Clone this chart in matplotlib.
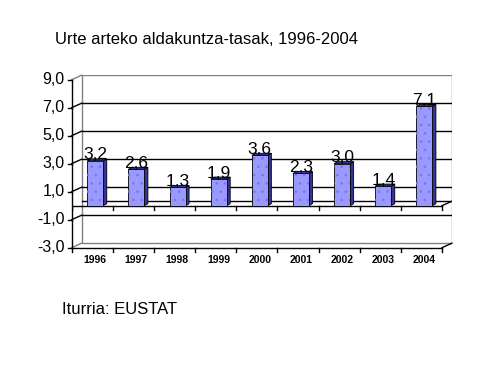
import matplotlib.pyplot as plt
from matplotlib.patches import Polygon, Rectangle

# data
years = ['1996', '1997', '1998', '1999', '2000', '2001', '2002', '2003', '2004']
rates = [3.2, 2.6, 1.3, 1.9, 3.6, 2.3, 3.0, 1.4, 7.1]
rate_labels = ['3,2', '2,6', '1,3', '1,9', '3,6', '2,3', '3,0', '1,4', '7,1']
y_ticks = [-3, -1, 1, 3, 5, 7, 9]
y_tick_labels = ['-3,0', '-1,0', '1,0', '3,0', '5,0', '7,0', '9,0']

plt.rcParams['font.family'] = ['Liberation Sans', 'DejaVu Sans']
plt.rcParams['hatch.linewidth'] = 0.6

fig = plt.figure(figsize=(4.86, 3.87), dpi=100)
ax = fig.add_axes([0.1475, 0.360, 0.7825, 0.4457])

n = len(years)
dx, dy = 0.243, 0.32      # depth of the 3d box (data units)
ymin, ymax = y_ticks[0], y_ticks[-1]
ax.set_xlim(0, n + dx)
ax.set_ylim(ymin, ymax + dy)
ax.axis('off')

# back wall + gridlines
ax.add_patch(Rectangle((dx, ymin + dy), n, ymax - ymin, fill=False,
                       edgecolor='#808080', lw=1, zorder=1))
for v, lab in zip(y_ticks, y_tick_labels):
    c = '#808080' if v in (ymin, ymax) else 'black'
    if v not in (ymin, ymax):
        ax.plot([dx, n + dx], [v + dy, v + dy], color='black', lw=1, zorder=1)
    ax.plot([0, dx], [v, v + dy], color=c, lw=1, zorder=1, clip_on=False)
    ax.plot([-0.1, 0], [v, v], color='black', lw=1, clip_on=False)
    ax.text(-0.17, v, lab, ha='right', va='center', fontsize=11.5)

# floor at zero
ax.plot([dx, n + dx], [dy, dy], color='black', lw=1, zorder=1)
ax.plot([0, n], [0, 0], color='black', lw=1, zorder=2)
ax.plot([n, n + dx], [0, dy], color='black', lw=1, zorder=2)

# axes lines
ax.plot([0, 0], [ymin, ymax], color='black', lw=1, clip_on=False)
ax.plot([0, n], [ymin, ymin], color='black', lw=1, clip_on=False)
ax.plot([n, n + dx], [ymin, ymin + dy], color='black', lw=1, clip_on=False)
for k in range(n + 1):
    ax.plot([k, k], [ymin, ymin - 0.3], color='black', lw=1, clip_on=False)
    ax.plot([k, k], [0, -0.3], color='black', lw=1, zorder=2)

# bars
w, s = 0.389, 0.073
bdx, bdy = 0.085, 0.143
for i, v in enumerate(rates):
    x0 = i + 0.5 - w / 2 + s
    x1 = x0 + w
    ax.add_patch(Polygon([(x1, 0), (x1 + bdx, bdy), (x1 + bdx, v + bdy), (x1, v)],
                         facecolor='#333399', edgecolor='black', lw=0.6, zorder=3))
    ax.add_patch(Polygon([(x0, v), (x0 + bdx, v + bdy), (x1 + bdx, v + bdy), (x1, v)],
                         facecolor='#333399', edgecolor='black', lw=0.6, zorder=3))
    ax.add_patch(Rectangle((x0, 0), w, v, facecolor='#9999ff', edgecolor='black',
                           lw=0.6, zorder=3))
    ax.add_patch(Rectangle((x0, 0), w, v, fill=False, hatch='..',
                           edgecolor='#7777dd', lw=0, zorder=3))
    ax.text(x0 + w / 2, v + 0.1, rate_labels[i], ha='center', va='baseline',
            fontsize=12.5, zorder=4)
    ax.text(i + 0.57, ymin - 0.85, years[i], ha='center', va='center',
            fontsize=7.5, fontweight='heavy')

fig.text(55 / 486, 1 - 40 / 387, 'Urte arteko aldakuntza-tasak, 1996-2004',
         fontsize=12, va='center')
fig.text(62 / 486, 1 - 310 / 387, 'Iturria: EUSTAT', fontsize=12, va='center')

fig.savefig('out.png', dpi=100)
